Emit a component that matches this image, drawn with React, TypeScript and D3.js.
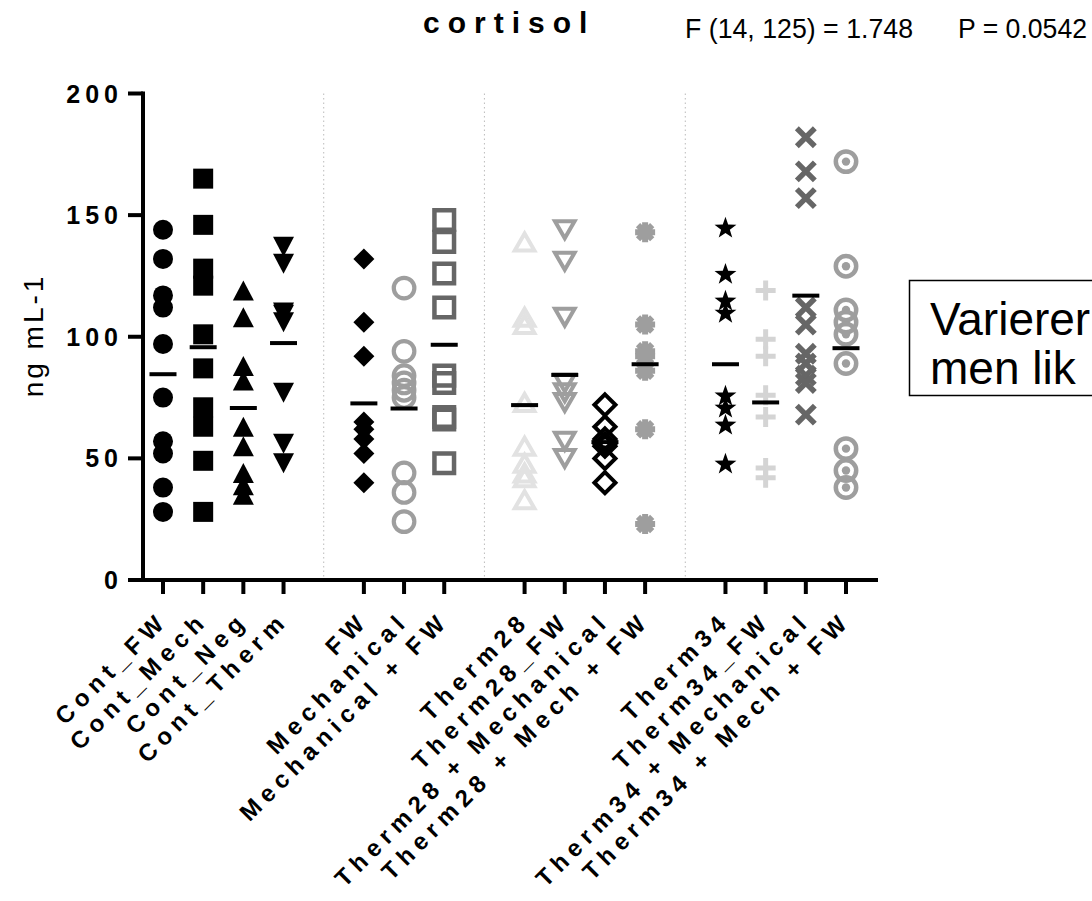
import React from 'react';
import * as d3 from 'd3';

// ---------- data ----------
const categories = [
  'Cont_FW', 'Cont_Mech', 'Cont_Neg', 'Cont_Therm',
  'FW', 'Mechanical', 'Mechanical + FW',
  'Therm28', 'Therm28_FW', 'Therm28 + Mechanical', 'Therm28 + Mech + FW',
  'Therm34', 'Therm34_FW', 'Therm34 + Mechanical', 'Therm34 + Mech + FW',
];
// block (group of treatments) each category belongs to
const categoryBlock = [0, 0, 0, 0, 1, 1, 1, 2, 2, 2, 2, 3, 3, 3, 3];

const contFW = [144, 132, 117, 112, 97, 75, 57, 52, 38, 28];
const contMech = [165, 146, 128, 121, 101, 87, 71, 63, 49, 28];
const contNeg = [119, 108, 88, 82, 63, 55, 44, 39, 35];
const contTherm = [137, 130, 110, 109, 106, 77, 56, 48];
const fw = [132, 106, 92, 65, 62, 58, 52, 40];
const mechanical = [120, 94, 84, 81, 78, 75, 44, 36, 24];
const mechFW = [148, 139, 126, 112, 84, 81, 67, 66, 48];
const therm28 = [139, 108, 105, 73, 55, 48, 44, 42, 33];
const therm28FW = [144, 131, 108, 81, 77, 73, 57, 50];
const therm28Mech = [72, 63, 58, 56, 55, 50, 40];
const therm28MechFW = [143, 105, 94, 92, 86, 62, 23];
const therm34 = [145, 126, 115, 110, 76, 71, 64, 48];
const therm34FW = [119, 99, 92, 76, 67, 46, 42];
const therm34Mech = [182, 168, 157, 112, 105, 93, 89, 84, 81, 68];
const therm34MechFW = [172, 129, 111, 106, 101, 89, 54, 45, 38];

const seriesValues = [
  contFW, contMech, contNeg, contTherm, fw, mechanical, mechFW,
  therm28, therm28FW, therm28Mech, therm28MechFW,
  therm34, therm34FW, therm34Mech, therm34MechFW,
];
const groupMeans = [84.6, 95.7, 70.7, 97.4, 72.6, 70.5, 96.7, 71.9, 84.3, 56.7, 88.7, 88.7, 73, 116.9, 95.3];

const yTicks = [0, 50, 100, 150, 200];
const titleText = 'cortisol';
const statF = 'F (14, 125) = 1.748';
const statP = 'P = 0.0542';
const yTitle = 'ng mL-1';
const noteLines = ['Varierer', 'men lik'];

// ---------- styling ----------
const BLACK = '#000';
const GREY = '#9e9e9e';
const LIGHT = '#e2e2e2';
const LIGHT2 = '#d4d4d4';
const DARK = '#666';

type Style = { shape: string; color: string };
const markerStyles: Style[] = [
  { shape: 'circle', color: BLACK },
  { shape: 'square', color: BLACK },
  { shape: 'triUp', color: BLACK },
  { shape: 'triDown', color: BLACK },
  { shape: 'diamond', color: BLACK },
  { shape: 'oCircle', color: GREY },
  { shape: 'oSquare', color: DARK },
  { shape: 'oTriUp', color: LIGHT },
  { shape: 'oTriDown', color: GREY },
  { shape: 'oDiamond', color: BLACK },
  { shape: 'asterisk', color: GREY },
  { shape: 'star', color: BLACK },
  { shape: 'plus', color: LIGHT2 },
  { shape: 'cross', color: DARK },
  { shape: 'target', color: GREY },
];

const FONT = "'Liberation Sans', Arial, Helvetica, sans-serif";

function starPath(outer: number, inner: number) {
  const pts: string[] = [];
  for (let i = 0; i < 10; i++) {
    const r = i % 2 === 0 ? outer : inner;
    const a = -Math.PI / 2 + (i * Math.PI) / 5;
    pts.push(`${(r * Math.cos(a)).toFixed(2)},${(r * Math.sin(a) + 1).toFixed(2)}`);
  }
  return 'M' + pts.join('L') + 'Z';
}

function Marker({ shape, color, x, y }: { shape: string; color: string; x: number; y: number }) {
  const t = `translate(${x},${y})`;
  switch (shape) {
    case 'circle':
      return <path transform={t} d={d3.symbol(d3.symbolCircle, Math.PI * 100)() as string} fill={color} />;
    case 'square':
      return <path transform={t} d="M-10,-10H10V10H-10Z" fill={color} />;
    case 'triUp':
      return <path transform={t} d="M0,-10L10.5,10L-10.5,10Z" fill={color} />;
    case 'triDown':
      return <path transform={t} d="M0,10L10.5,-10L-10.5,-10Z" fill={color} />;
    case 'diamond':
      return <path transform={t} d="M0,-10.5L10.5,0L0,10.5L-10.5,0Z" fill={color} />;
    case 'oCircle':
      return <circle cx={x} cy={y} r={10.3} fill="none" stroke={color} strokeWidth={4.2} />;
    case 'oSquare':
      return <path transform={t} d="M-9.8,-9.8H9.8V9.8H-9.8Z" fill="none" stroke={color} strokeWidth={4.5} />;
    case 'oTriUp':
      return <path transform={t} d="M0,-8.5L9.8,8.5L-9.8,8.5Z" fill="none" stroke={color} strokeWidth={4} strokeLinejoin="miter" />;
    case 'oTriDown':
      return <path transform={t} d="M0,8.5L9.8,-8.5L-9.8,-8.5Z" fill="none" stroke={color} strokeWidth={4} strokeLinejoin="miter" />;
    case 'oDiamond':
      return <path transform={t} d="M0,-10.5L10.5,0L0,10.5L-10.5,0Z" fill="none" stroke={color} strokeWidth={4} />;
    case 'asterisk':
      return (
        <path transform={t} d="M-10,0H10M0,-10V10M-7.1,-7.1L7.1,7.1M-7.1,7.1L7.1,-7.1" fill="none" stroke={color} strokeWidth={6} />
      );
    case 'star':
      return <path transform={t} d={starPath(11.5, 4.6)} fill={color} />;
    case 'plus':
      return <path transform={t} d="M-10,0H10M0,-10V10" fill="none" stroke={color} strokeWidth={5} />;
    case 'cross':
      return <path transform={t} d="M-9,-9L9,9M-9,9L9,-9" fill="none" stroke={color} strokeWidth={5.5} />;
    case 'target':
      return (
        <g transform={t}>
          <circle r={10.2} fill="none" stroke={color} strokeWidth={4.5} />
          <circle r={4.2} fill={color} />
        </g>
      );
    default:
      return null;
  }
}

export default function App() {
  const W = 1092;
  const H = 901;
  const slotOf = categories.map((_, i) => i + categoryBlock[i]);
  const nSlots = d3.max(slotOf) as number;
  const x = d3.scaleLinear().domain([0, nSlots]).range([163, 846]);
  const y = d3.scaleLinear().domain([0, 200]).range([580, 93.5]);
  const axisLeft = 143;
  const axisRight = 878;
  const separatorSlots = d3.range(1, 4).map((b) => {
    const first = categoryBlock.indexOf(b);
    return slotOf[first] - 1;
  });

  const xLabelFs = 24;
  const xLabelLs = 6;
  const yLabelFs = 25;
  const yLabelLs = 5;

  return (
    <svg
      width={W}
      height={H}
      style={{ position: 'absolute', left: 0, top: 0, background: '#fff' }}
      fontFamily={FONT}
    >
      <rect width={W} height={H} fill="#fff" />
      {/* header */}
      <text x={423} y={33} fontSize={30} fontWeight="bold" letterSpacing={8}>
        {titleText}
      </text>
      <text x={685} y={38} fontSize={27} textLength={228} lengthAdjust="spacingAndGlyphs">
        {statF}
      </text>
      <text x={958} y={38} fontSize={27} textLength={129} lengthAdjust="spacingAndGlyphs">
        {statP}
      </text>

      {/* separators */}
      {separatorSlots.map((s) => (
        <line key={s} x1={x(s)} x2={x(s)} y1={y(200)} y2={y(0)} stroke="#bbb" strokeWidth={1} strokeDasharray="1.5,3" />
      ))}

      {/* y axis */}
      <line x1={axisLeft} x2={axisLeft} y1={y(200) - 2} y2={y(0) + 2} stroke="#000" strokeWidth={4} />
      {yTicks.map((t) => (
        <g key={t}>
          <line x1={axisLeft - 15} x2={axisLeft} y1={y(t)} y2={y(t)} stroke="#000" strokeWidth={4} />
          <text
            x={118 + yLabelLs}
            y={y(t) + 9}
            textAnchor="end"
            fontSize={yLabelFs}
            fontWeight="bold"
            letterSpacing={yLabelLs}
          >
            {t}
          </text>
        </g>
      ))}
      <text
        transform={`translate(43,337) rotate(-90)`}
        textAnchor="middle"
        x={1.5}
        fontSize={28}
        letterSpacing={3}
      >
        {yTitle}
      </text>

      {/* x axis */}
      <line x1={axisLeft - 2} x2={axisRight} y1={y(0)} y2={y(0)} stroke="#000" strokeWidth={4} />
      {categories.map((c, i) => (
        <g key={c}>
          <line x1={x(slotOf[i])} x2={x(slotOf[i])} y1={y(0)} y2={y(0) + 14} stroke="#000" strokeWidth={4} />
          <text
            transform={`translate(${x(slotOf[i]) + 2},626) rotate(-45)`}
            x={xLabelLs}
            textAnchor="end"
            fontSize={xLabelFs}
            fontWeight="bold"
            letterSpacing={xLabelLs}
          >
            {c}
          </text>
        </g>
      ))}

      {/* points */}
      {seriesValues.map((vals, i) =>
        vals.map((v, j) => (
          <Marker key={`${i}-${j}`} shape={markerStyles[i].shape} color={markerStyles[i].color} x={x(slotOf[i])} y={y(v)} />
        ))
      )}

      {/* mean lines */}
      {groupMeans.map((m, i) => (
        <line key={`m${i}`} x1={x(slotOf[i]) - 13.5} x2={x(slotOf[i]) + 13.5} y1={y(m)} y2={y(m)} stroke="#000" strokeWidth={4} />
      ))}

      {/* note box */}
      <rect x={909.5} y={280.5} width={300} height={115} fill="none" stroke="#000" strokeWidth={1.5} />
      {noteLines.map((l, i) => (
        <text key={l} x={930} y={335 + i * 49} fontSize={46}>
          {l}
        </text>
      ))}
    </svg>
  );
}
